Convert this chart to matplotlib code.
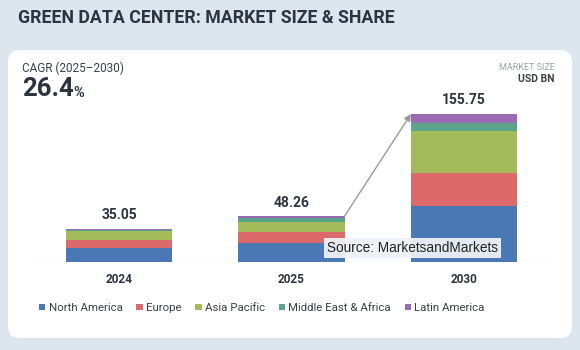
import matplotlib

matplotlib.use("Agg")
import matplotlib.pyplot as plt
import numpy as np
from matplotlib.patches import FancyBboxPatch
from matplotlib.transforms import BboxTransformTo, offset_copy

years = ["2024", "2025", "2030"]
totals = [35.05, 48.26, 155.75]
regions = ["North America", "Europe", "Asia Pacific", "Middle East & Africa", "Latin America"]
north_america = [14.40, 19.96, 58.75]
europe = [8.35, 11.60, 35.10]
asia_pacific = [9.40, 10.90, 44.30]
middle_east_africa = [1.45, 3.60, 7.80]
latin_america = [1.45, 2.20, 9.80]
colors = ["#4a78b5", "#dc6a6a", "#a4bb5c", "#5aa58a", "#9a6bb0"]

plt.rcParams["font.family"] = ["Roboto", "DejaVu Sans"]
DARK = "#2b3440"

W, H = 580, 350
fig = plt.figure(figsize=(W / 100, H / 100), dpi=100)
fig.patch.set_facecolor("#dde6ef")


def px(x, y):
    # pixel coords (from top-left) -> figure fraction
    return x / W, 1 - y / H


# background axes holding the white rounded card
bg = fig.add_axes([0, 0, 1, 1], zorder=-1)
bg.set_xlim(0, W)
bg.set_ylim(H, 0)
bg.axis("off")
bg.add_patch(FancyBboxPatch((8, 50), 564, 288, boxstyle="round,pad=0,rounding_size=12",
                            facecolor="white", edgecolor="none"))

fig.text(*px(18, 18), "GREEN DATA CENTER: MARKET SIZE & SHARE", fontsize=12.8,
         fontweight="bold", color=DARK, va="center", ha="left")
fig.text(*px(22, 68), "CAGR (2025\u20132030)", fontsize=8.5, color="#3a3f47",
         va="center", ha="left")
big = fig.text(*px(22, 89), "26.4", fontsize=18.5, fontweight="bold", color=DARK,
               va="center", ha="left")
fig.text(*px(555, 67), "MARKET SIZE", fontsize=6.5, color="#9aa0a8",
         va="center", ha="right")
fig.text(*px(555, 79), "USD BN", fontsize=7.5, fontweight="bold", color="#3a3f47",
         va="center", ha="right")
fig.canvas.draw()
fig.text(1, 0, "%", fontsize=10.5, fontweight="bold", color=DARK, va="bottom", ha="left",
         transform=offset_copy(BboxTransformTo(big.get_window_extent()),
                               fig=fig, x=0, y=1, units="points"))

# axes placed so baseline sits at y=262px, bars centred at 119/291.5/464px
x_lo, x_hi = -0.5, 2.5
unit = 172.5
ax_left = 119 - 0.5 * unit
ax_w = 3 * unit
y_top = 170
scale = 0.95
ax_h = y_top * scale
ax = fig.add_axes([ax_left / W, (H - 262) / H, ax_w / W, ax_h / H])
ax.set_xlim(x_lo, x_hi)
ax.set_ylim(0, y_top)
ax.axis("off")

x = np.arange(len(years))
series = [north_america, europe, asia_pacific, middle_east_africa, latin_america]
bottom = np.zeros(len(years))
for vals, name, c in zip(series, regions, colors):
    ax.bar(x, vals, 0.615, bottom=bottom, color=c, label=name, zorder=2)
    bottom += np.array(vals)

ax.axhline(0, color="#dde1e6", lw=1, zorder=1)

for xi, t in zip(x, totals):
    ax.text(xi, t + 7, f"{t:.2f}", ha="center", va="bottom", fontsize=10,
            fontweight="bold", color=DARK)
    ax.text(xi, -12, years[xi], ha="center", va="top", fontsize=8.5,
            fontweight="bold", color=DARK, clip_on=False)

# growth arrow from 2025 top-right to 2030 top-left
ax.annotate("", xy=(2 - 0.3075, totals[2]), xytext=(1 + 0.3075, totals[1]),
            arrowprops=dict(arrowstyle="-|>", color="#9a9a9a", lw=1,
                            mutation_scale=10, shrinkA=0, shrinkB=0), zorder=3)

fig.text(*px(327, 248), "Source: MarketsandMarkets", fontsize=9.8, color="#222222",
         va="center", ha="left", family=["Liberation Sans", "DejaVu Sans"],
         bbox=dict(boxstyle="square,pad=0.2", facecolor="#eef1f5",
                   edgecolor="none", alpha=0.95), zorder=5)

handles, labels = ax.get_legend_handles_labels()
fig.legend(handles, labels, loc="center", bbox_to_anchor=px(262, 308), ncol=5,
           frameon=False, handlelength=0.55, handleheight=0.55,
           handletextpad=0.3, columnspacing=1.2, labelcolor="#3a3f47",
           prop={"size": 8.2})

fig.savefig("out.png", dpi=100, facecolor=fig.get_facecolor())
